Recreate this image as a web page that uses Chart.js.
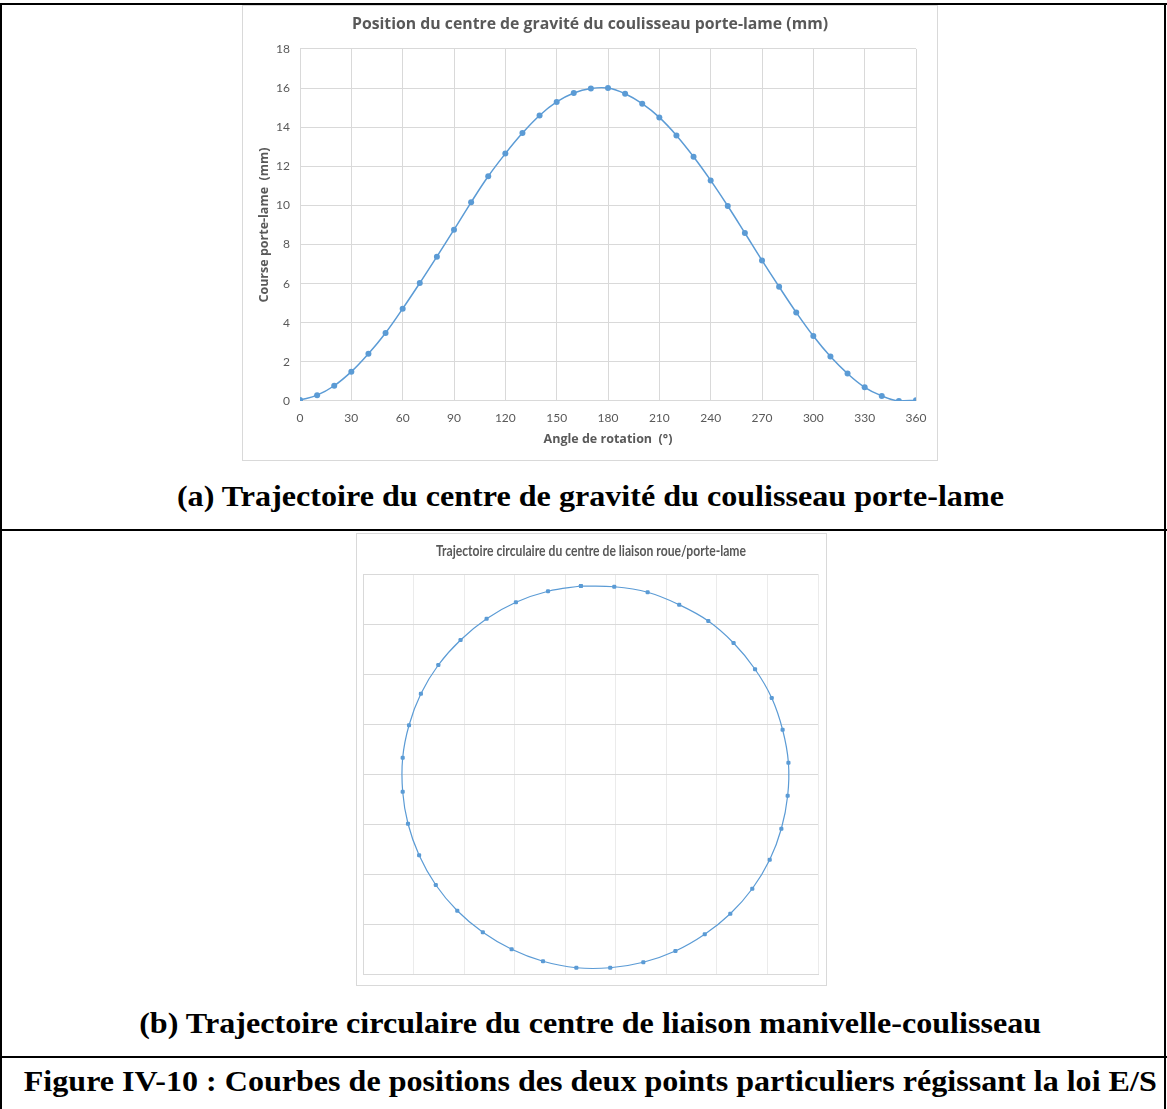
<!DOCTYPE html>
<html>
<head>
<meta charset="utf-8">
<title>Figure IV-10</title>
<script src="https://cdn.jsdelivr.net/npm/chart.js@4.4.1/dist/chart.umd.min.js"></script>
<style>
  html, body { margin: 0; padding: 0; background: #fff; }
  #page { position: relative; width: 1167px; height: 1109px; overflow: hidden; background: #fff; }
  .rule { position: absolute; background: #000; }
  .box { position: absolute; box-sizing: border-box; border: 1px solid #d9d9d9; background: #fff; }
  .box canvas { display: block; }
  .cap { position: absolute; left: 7px; width: 1167px; text-align: center; white-space: nowrap;
         font-family: "Liberation Serif", "Times New Roman", serif; font-weight: bold; color: #000; }
  .cap span { display: inline-block; transform-origin: 50% 50%; }
</style>
</head>
<body>
<div id="page">
  <!-- table frame -->
  <div class="rule" style="left:0;top:3px;width:1167px;height:2px;"></div>
  <div class="rule" style="left:0;top:529px;width:1167px;height:2px;"></div>
  <div class="rule" style="left:0;top:1056px;width:1167px;height:2px;"></div>
  <div class="rule" style="left:0;top:3px;width:2px;height:1106px;"></div>
  <div class="rule" style="left:1164px;top:3px;width:2px;height:1106px;"></div>

  <div class="box" style="left:242px;top:5px;width:696px;height:456px;"><canvas id="chartA"></canvas></div>
  <div class="cap" style="top:478px;font-size:29px;line-height:36px;"><span data-w="827">(a) Trajectoire du centre de gravité du coulisseau porte-lame</span></div>

  <div class="box" style="left:356px;top:533px;width:471px;height:453px;"><canvas id="chartB"></canvas></div>
  <div class="cap" style="top:1005px;font-size:29px;line-height:36px;"><span data-w="902">(b) Trajectoire circulaire du centre de liaison manivelle-coulisseau</span></div>

  <div class="cap" style="top:1063px;font-size:29px;line-height:36px;"><span data-w="1133">Figure IV-10 : Courbes de positions des deux points particuliers régissant la loi E/S</span></div>
</div>

<script>
// ---- (a) slide position versus crank angle ----
const angles = [0, 10, 20, 30, 40, 50, 60, 70, 80, 90, 100, 110, 120, 130, 140, 150, 160, 170, 180,
                190, 200, 210, 220, 230, 240, 250, 260, 270, 280, 290, 300, 310, 320, 330, 340, 350, 360];
const course = [0.05, 0.30, 0.78, 1.50, 2.42, 3.48, 4.72, 6.03, 7.38, 8.76, 10.16, 11.49, 12.65, 13.70,
                14.60, 15.29, 15.75, 15.98, 16.00, 15.71, 15.20, 14.50, 13.58, 12.49, 11.28, 9.97, 8.59,
                7.19, 5.84, 4.53, 3.32, 2.27, 1.40, 0.70, 0.26, 0.00, 0.04];
const angleTicks = [0, 30, 60, 90, 120, 150, 180, 210, 240, 270, 300, 330, 360];
const courseTicks = [0, 2, 4, 6, 8, 10, 12, 14, 16, 18];

// ---- (b) path of the crank pin (closed loop, last point repeats the first) ----
const pinX = [8.62, 9.94, 11.26, 12.51, 13.66, 14.66, 15.51, 16.17, 16.60, 16.83, 16.80, 16.55,
              16.09, 15.40, 14.53, 13.52, 12.36, 11.09, 9.78, 8.44, 7.12, 5.88, 4.74, 3.73,
              2.88, 2.22, 1.78, 1.57, 1.57, 1.82, 2.29, 2.98, 3.86, 4.89, 6.05, 7.32, 8.62];
const pinY = [15.52, 15.49, 15.27, 14.77, 14.12, 13.24, 12.19, 11.04, 9.77, 8.45, 7.13, 5.81,
              4.57, 3.41, 2.41, 1.59, 0.92, 0.47, 0.25, 0.25, 0.51, 0.99, 1.67, 2.53,
              3.56, 4.75, 6.01, 7.29, 8.65, 9.95, 11.21, 12.36, 13.36, 14.21, 14.87, 15.31, 15.52];
const gridXTicks = [0, 2, 4, 6, 8, 10, 12, 14, 16, 18];
const gridYTicks = [0, 2, 4, 6, 8, 10, 12, 14, 16];

const BLUE = '#5B9BD5';
const GREY_TEXT = '#595959';
const GRID = '#d9d9d9';
const HEAD_FONT = '"Open Sans", "Liberation Sans", sans-serif';

Chart.defaults.font.family = 'Lato, "Liberation Sans", sans-serif';
Chart.defaults.color = GREY_TEXT;
Chart.defaults.animation = false;

// Title drawn with horizontal compression (condensed heading)
const squeezedTitle = {
  id: 'squeezedTitle',
  afterDraw(chart, args, opts) {
    if (!opts || !opts.text) return;
    const ctx = chart.ctx;
    ctx.save();
    ctx.font = 'bold ' + opts.size + 'px ' + opts.family;
    ctx.fillStyle = opts.color;
    ctx.textAlign = 'center';
    ctx.textBaseline = 'middle';
    const w = ctx.measureText(opts.text).width;
    ctx.translate(opts.x, opts.y);
    ctx.scale(opts.width / w, 1);
    ctx.fillText(opts.text, 0, 0);
    ctx.restore();
  }
};

new Chart(document.getElementById('chartA'), {
  type: 'line',
  data: {
    datasets: [{
      data: angles.map((a, i) => ({ x: a, y: course[i] })),
      borderColor: BLUE,
      backgroundColor: BLUE,
      borderWidth: 1.5,
      pointRadius: 3,
      pointBorderWidth: 0,
      tension: 0.4,
      fill: false
    }]
  },
  options: {
    responsive: true,
    maintainAspectRatio: false,
    layout: { padding: 0 },
    plugins: {
      legend: { display: false },
      tooltip: { enabled: false },
      title: {
        display: true,
        text: 'Position du centre de gravité du coulisseau porte-lame (mm)',
        color: GREY_TEXT,
        font: { family: HEAD_FONT, size: 15.8, weight: 'bold' },
        padding: { top: 9, bottom: 15 }
      }
    },
    scales: {
      x: {
        type: 'linear',
        min: 0, max: 360,
        afterBuildTicks: s => { s.ticks = angleTicks.map(v => ({ value: v })); },
        afterFit: s => { s.height = 59; },
        grid: { color: GRID, drawTicks: false },
        border: { color: GRID },
        ticks: { padding: 10, font: { size: 12 }, color: GREY_TEXT },
        title: {
          display: true,
          text: 'Angle de rotation  (°)',
          color: GREY_TEXT,
          font: { family: HEAD_FONT, size: 12.5, weight: 'bold' },
          padding: { top: 0, bottom: 13 }
        }
      },
      y: {
        min: 0, max: 18,
        afterBuildTicks: s => { s.ticks = courseTicks.map(v => ({ value: v })); },
        afterFit: s => { s.width = 57; },
        grid: { color: GRID, drawTicks: false },
        border: { display: false },
        ticks: { padding: 10, font: { size: 12 }, color: GREY_TEXT },
        title: {
          display: true,
          text: 'Course porte-lame  (mm)',
          color: GREY_TEXT,
          font: { family: HEAD_FONT, size: 12.5, weight: 'bold' },
          padding: { top: 14, bottom: 0 }
        }
      },
      // empty right-hand margin of the plot frame
      margin: {
        position: 'right',
        afterFit: s => { s.width = 21; },
        grid: { display: false },
        border: { display: false },
        ticks: { display: false }
      }
    }
  }
});

new Chart(document.getElementById('chartB'), {
  type: 'scatter',
  data: {
    datasets: [{
      data: pinX.map((x, i) => ({ x: x, y: pinY[i] })),
      showLine: true,
      borderColor: BLUE,
      backgroundColor: BLUE,
      borderWidth: 1.2,
      pointStyle: 'rectRounded',
      pointRadius: 2.4,
      pointBorderWidth: 0,
      tension: 0.4,
      fill: false
    }]
  },
  options: {
    responsive: true,
    maintainAspectRatio: false,
    layout: { padding: { left: 6, right: 8, top: 40, bottom: 11 } },
    plugins: {
      legend: { display: false },
      tooltip: { enabled: false },
      title: { display: false },
      squeezedTitle: {
        text: 'Trajectoire circulaire du centre de liaison roue/porte-lame',
        family: 'Lato, "Liberation Sans", sans-serif',
        size: 16, color: GREY_TEXT, x: 234, y: 17, width: 310
      }
    },
    scales: {
      x: {
        type: 'linear',
        min: 0, max: 18,
        afterBuildTicks: s => { s.ticks = gridXTicks.map(v => ({ value: v })); },
        afterFit: s => { s.height = 0; },
        grid: { color: '#ebebeb', drawTicks: false },
        border: { color: GRID },
        ticks: { display: false }
      },
      y: {
        min: 0, max: 16,
        afterBuildTicks: s => { s.ticks = gridYTicks.map(v => ({ value: v })); },
        afterFit: s => { s.width = 0; },
        grid: { color: GRID, drawTicks: false },
        border: { color: GRID },
        ticks: { display: false }
      }
    }
  },
  plugins: [squeezedTitle]
});

// Fit the serif captions to their column widths
document.querySelectorAll('.cap span').forEach(el => {
  const target = parseFloat(el.dataset.w);
  const w = el.getBoundingClientRect().width;
  if (w > 0) el.style.transform = 'scaleX(' + (target / w).toFixed(4) + ')';
});
</script>
</body>
</html>
